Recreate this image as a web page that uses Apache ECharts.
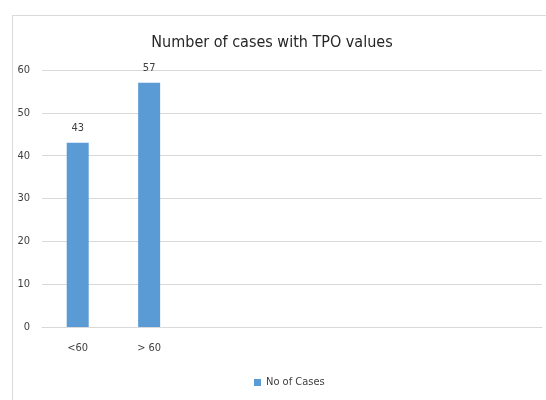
<!DOCTYPE html>
<html>
<head>
<meta charset="utf-8">
<script src="https://cdn.jsdelivr.net/npm/echarts@6/dist/echarts.min.js"></script>
<style>
  html, body { margin: 0; padding: 0; background: #fff; }
  #main { width: 546px; height: 400px; }
</style>
</head>
<body>
<div id="main"></div>
<script>
// categories: only the first two are used, the rest are empty slots
const categories = ['<60', '> 60', '', '', '', '', ''];
const cases = [43, 57, null, null, null, null, null];
const yTicks = { min: 0, max: 60, interval: 10 };

const fontFamily = "'DejaVu Sans Condensed', 'Liberation Sans', sans-serif";

let options = {
    animation: false,
    textStyle: { fontFamily: fontFamily },
    title: {
        text: 'Number of cases with TPO values',
        left: 267,
        textAlign: 'center',
        top: 30,
        textStyle: { fontSize: 16, fontWeight: 'normal', color: '#262626', fontFamily: fontFamily }
    },
    grid: { left: 42, right: 4, top: 70, bottom: 73 },
    legend: {
        data: ['No of Cases'],
        left: 249,
        top: 372,
        icon: 'rect',
        itemWidth: 7,
        itemHeight: 7,
        itemGap: 4,
        textStyle: { fontSize: 11, color: '#404040', fontFamily: fontFamily }
    },
    xAxis: {
        type: 'category',
        data: categories,
        axisLine: { lineStyle: { color: '#d9d9d9' } },
        axisTick: { show: false },
        axisLabel: { interval: 0, margin: 16, fontSize: 11, color: '#404040' }
    },
    yAxis: {
        type: 'value',
        min: yTicks.min,
        max: yTicks.max,
        interval: yTicks.interval,
        axisLine: { show: false },
        axisTick: { show: false },
        axisLabel: { margin: 12, fontSize: 11, color: '#404040' },
        splitLine: { lineStyle: { color: '#d9d9d9' } }
    },
    series: [{
        name: 'No of Cases',
        type: 'bar',
        data: cases,
        barWidth: 22,
        itemStyle: { color: '#5B9BD5' },
        label: { show: true, position: 'top', distance: 9, fontSize: 11, color: '#404040' }
    }],
    graphic: [{
        type: 'rect',
        left: 10,
        top: 13,
        shape: { width: 600, height: 450 },
        style: { fill: 'none', stroke: '#d9d9d9', lineWidth: 1 },
        silent: true
    }]
};

let myChart = echarts.init(document.getElementById('main'));
myChart.setOption(options);
</script>
</body>
</html>
